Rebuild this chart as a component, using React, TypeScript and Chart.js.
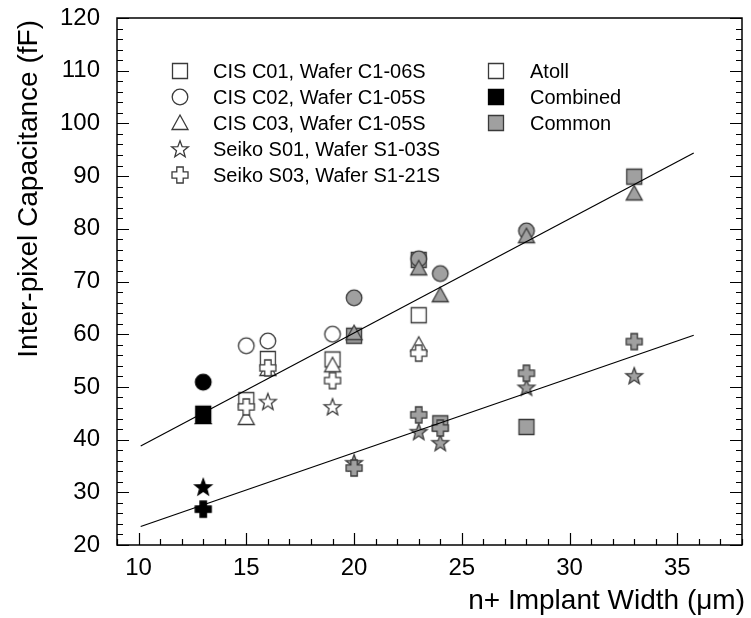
import React, { useEffect, useRef } from "react";
import { Chart, registerables } from "chart.js";

Chart.register(...registerables);

// ---------- Axis ranges / ticks ----------
const xMin = 9;
const xMax = 38;
const yMin = 20;
const yMax = 120;
const xStep = 5;
const yStep = 10;

// ---------- Data: Combined (black) ----------
const combinedX = [13];
const combinedC01 = [44.9];
const combinedC02 = [50.9];
const combinedC03 = [44.3];
const combinedS01 = [31.0];
const combinedS03 = [26.8];

// ---------- Data: Atoll (open) ----------
const atollC01X = [15, 16, 19, 23];
const atollC01Y = [47.5, 55.3, 55.2, 63.6];
const atollC02X = [15, 16, 19];
const atollC02Y = [57.8, 58.7, 60.0];
const atollC03X = [15, 16, 19, 23];
const atollC03Y = [44.1, 53.4, 54.1, 58.0];
const atollS01X = [16, 19];
const atollS01Y = [47.2, 46.2];
const atollS03X = [15, 16, 19, 23];
const atollS03Y = [46.2, 53.6, 51.2, 56.4];

// ---------- Data: Common (gray) ----------
const commonC01X = [20, 23, 24, 28, 33];
const commonC01Y = [59.7, 74.1, 43.1, 42.4, 89.9];
const commonC02X = [20, 23, 24, 28];
const commonC02Y = [66.9, 74.3, 71.5, 79.6];
const commonC03X = [20, 23, 24, 28, 33];
const commonC03Y = [60.2, 72.5, 67.4, 78.6, 86.7];
const commonS01X = [20, 23, 24, 28, 33];
const commonS01Y = [35.6, 41.5, 39.4, 49.9, 52.1];
const commonS03X = [20, 23, 24, 28, 33];
const commonS03Y = [34.6, 44.7, 42.2, 52.6, 58.6];

// ---------- Fit lines ----------
const fitX = [10.1, 35.76];
const fitUpperY = [38.8, 94.4];
const fitLowerY = [23.5, 59.8];

// ---------- Legend text ----------
const sampleLabels = [
  "CIS C01, Wafer C1-06S",
  "CIS C02, Wafer C1-05S",
  "CIS C03, Wafer C1-05S",
  "Seiko S01, Wafer S1-03S",
  "Seiko S03, Wafer S1-21S",
];
const typeLabels = ["Atoll", "Combined", "Common"];

const xTitle = "n+ Implant Width (\u03BCm)";
const yTitle = "Inter-pixel Capacitance (fF)";

const FONT = "'Liberation Sans', Arial, Helvetica, sans-serif";
const NARROW = "'Liberation Sans Narrow', 'Arial Narrow', 'Liberation Sans', sans-serif";

type Shape = "square" | "circle" | "triangle" | "star" | "cross";

function makeMarker(shape: Shape, fill: string, stroke: string): HTMLCanvasElement {
  const S = 24;
  const c = document.createElement("canvas");
  c.width = S;
  c.height = S;
  const ctx = c.getContext("2d")!;
  const m = S / 2;
  ctx.fillStyle = fill;
  ctx.strokeStyle = stroke;
  ctx.lineWidth = 1.3;
  ctx.lineJoin = "miter";
  ctx.beginPath();
  if (shape === "square") {
    ctx.rect(m - 7.5, m - 7.5, 15, 15);
  } else if (shape === "circle") {
    ctx.arc(m, m, 7.8, 0, Math.PI * 2);
  } else if (shape === "triangle") {
    ctx.moveTo(m, m - 8);
    ctx.lineTo(m + 8, m + 6.5);
    ctx.lineTo(m - 8, m + 6.5);
    ctx.closePath();
  } else if (shape === "star") {
    for (let i = 0; i < 10; i++) {
      const r = i % 2 === 0 ? 8.8 : 3.7;
      const a = -Math.PI / 2 + (i * Math.PI) / 5;
      const px = m + r * Math.cos(a);
      const py = m + 0.6 + r * Math.sin(a);
      if (i === 0) ctx.moveTo(px, py);
      else ctx.lineTo(px, py);
    }
    ctx.closePath();
  } else {
    const w = 3.2;
    const l = 8;
    const pts = [
      [-w, -l], [w, -l], [w, -w], [l, -w], [l, w], [w, w],
      [w, l], [-w, l], [-w, w], [-l, w], [-l, -w], [-w, -w],
    ];
    pts.forEach(([dx, dy], i) => {
      if (i === 0) ctx.moveTo(m + dx, m + dy);
      else ctx.lineTo(m + dx, m + dy);
    });
    ctx.closePath();
  }
  ctx.fill();
  ctx.stroke();
  return c;
}

const toPts = (xs: number[], ys: number[]) => xs.map((x, i) => ({ x, y: ys[i] }));

export default function App() {
  const ref = useRef<HTMLCanvasElement | null>(null);

  useEffect(() => {
    if (!ref.current) return;
    const shapes: Shape[] = ["square", "circle", "triangle", "star", "cross"];
    const styles = {
      atoll: { fill: "#ffffff", stroke: "#3a3a3a" },
      combined: { fill: "#000000", stroke: "#000000" },
      common: { fill: "#a0a0a0", stroke: "#3a3a3a" },
    };
    const mk: Record<string, Record<Shape, HTMLCanvasElement>> = {};
    (Object.keys(styles) as (keyof typeof styles)[]).forEach((k) => {
      mk[k] = {} as Record<Shape, HTMLCanvasElement>;
      shapes.forEach((s) => {
        mk[k][s] = makeMarker(s, styles[k].fill, styles[k].stroke);
      });
    });

    const shapeOrder: Record<Shape, number> = { cross: 1, star: 2, triangle: 3, circle: 4, square: 5 };

    const groups: { type: string; shape: Shape; pts: { x: number; y: number }[] }[] = [
      { type: "combined", shape: "square", pts: toPts(combinedX, combinedC01) },
      { type: "combined", shape: "circle", pts: toPts(combinedX, combinedC02) },
      { type: "combined", shape: "triangle", pts: toPts(combinedX, combinedC03) },
      { type: "combined", shape: "star", pts: toPts(combinedX, combinedS01) },
      { type: "combined", shape: "cross", pts: toPts(combinedX, combinedS03) },
      { type: "atoll", shape: "square", pts: toPts(atollC01X, atollC01Y) },
      { type: "atoll", shape: "circle", pts: toPts(atollC02X, atollC02Y) },
      { type: "atoll", shape: "triangle", pts: toPts(atollC03X, atollC03Y) },
      { type: "atoll", shape: "star", pts: toPts(atollS01X, atollS01Y) },
      { type: "atoll", shape: "cross", pts: toPts(atollS03X, atollS03Y) },
      { type: "common", shape: "square", pts: toPts(commonC01X, commonC01Y) },
      { type: "common", shape: "circle", pts: toPts(commonC02X, commonC02Y) },
      { type: "common", shape: "triangle", pts: toPts(commonC03X, commonC03Y) },
      { type: "common", shape: "star", pts: toPts(commonS01X, commonS01Y) },
      { type: "common", shape: "cross", pts: toPts(commonS03X, commonS03Y) },
    ];

    const datasets: any[] = groups.map((g) => ({
      type: "scatter",
      data: g.pts,
      pointStyle: mk[g.type][g.shape],
      pointRadius: 8,
      showLine: false,
      order: shapeOrder[g.shape],
    }));
    datasets.push({
      type: "line",
      data: toPts(fitX, fitUpperY),
      borderColor: "#000",
      borderWidth: 1.2,
      pointRadius: 0,
      fill: false,
      order: 0,
    });
    datasets.push({
      type: "line",
      data: toPts(fitX, fitLowerY),
      borderColor: "#000",
      borderWidth: 1.2,
      pointRadius: 0,
      fill: false,
      order: 0,
    });

    const decor = {
      id: "decor",
      afterDraw(chart: any) {
        const ctx = chart.ctx as CanvasRenderingContext2D;
        const { left, right, top, bottom } = chart.chartArea;
        const xs = chart.scales.x;
        const ys = chart.scales.y;
        ctx.save();
        // frame
        ctx.strokeStyle = "#000";
        ctx.lineWidth = 1.5;
        ctx.strokeRect(left, top, right - left, bottom - top);
        // ticks
        ctx.lineWidth = 1.2;
        ctx.beginPath();
        for (let v = xMin; v <= xMax; v++) {
          const px = Math.round(xs.getPixelForValue(v)) + 0.5;
          const len = v % xStep === 0 ? 12 : 6;
          ctx.moveTo(px, bottom);
          ctx.lineTo(px, bottom - len);
        }
        for (let v = yMin; v <= yMax; v += 2) {
          const py = Math.round(ys.getPixelForValue(v)) + 0.5;
          const len = v % yStep === 0 ? 12 : 6;
          ctx.moveTo(left, py);
          ctx.lineTo(left + len, py);
          ctx.moveTo(right, py);
          ctx.lineTo(right - len, py);
        }
        ctx.stroke();

        // legend 1
        ctx.fillStyle = "#000";
        ctx.font = `20px ${FONT}`;
        ctx.textBaseline = "middle";
        ctx.textAlign = "left";
        const legShapes: Shape[] = ["square", "circle", "triangle", "star", "cross"];
        sampleLabels.forEach((lab, i) => {
          const cy = top + 53 + i * 26;
          const img = mk.atoll[legShapes[i]];
          ctx.drawImage(img, left + 63 - img.width / 2, cy - img.height / 2);
          ctx.fillText(lab, left + 96, cy + 1);
        });
        // legend 2
        const legTypes = ["atoll", "combined", "common"];
        typeLabels.forEach((lab, i) => {
          const cy = top + 53 + i * 26;
          const img = mk[legTypes[i]].square;
          ctx.drawImage(img, left + 379 - img.width / 2, cy - img.height / 2);
          ctx.fillText(lab, left + 413, cy + 1);
        });

        // axis titles
        ctx.font = `28px ${FONT}`;
        ctx.textAlign = "right";
        ctx.textBaseline = "alphabetic";
        ctx.fillText(xTitle, right + 3, 609);
        ctx.save();
        ctx.translate(37, top + 2);
        ctx.rotate(-Math.PI / 2);
        ctx.textAlign = "right";
        ctx.fillText(yTitle, 0, 0);
        ctx.restore();
        ctx.restore();
      },
    };

    const chart = new Chart(ref.current, {
      type: "scatter",
      data: { datasets },
      options: {
        responsive: false,
        animation: false,
        events: [],
        layout: { padding: { top: 18, right: 3, left: 0, bottom: 0 } },
        plugins: { legend: { display: false }, tooltip: { enabled: false } },
        scales: {
          x: {
            type: "linear",
            min: xMin,
            max: xMax,
            afterBuildTicks: (s: any) => {
              s.ticks = s.ticks.filter((t: any) => t.value % xStep === 0);
            },
            afterFit: (s: any) => {
              s.height = 73;
              s.paddingLeft = 0;
              s.paddingRight = 0;
            },
            ticks: {
              stepSize: xStep,
              color: "#000",
              font: { family: NARROW, size: 24 },
              padding: 9,
              maxRotation: 0,
            },
            grid: { display: false, drawTicks: false },
            border: { display: false },
          },
          y: {
            type: "linear",
            min: yMin,
            max: yMax,
            afterBuildTicks: (s: any) => {
              s.ticks = s.ticks.filter((t: any) => t.value % yStep === 0);
            },
            afterFit: (s: any) => {
              s.width = 117;
              s.paddingTop = 0;
              s.paddingBottom = 0;
            },
            ticks: {
              stepSize: yStep,
              color: "#000",
              font: { family: NARROW, size: 24 },
              padding: 17,
            },
            grid: { display: false, drawTicks: false },
            border: { display: false },
          },
        },
      },
      plugins: [decor],
    });
    return () => chart.destroy();
  }, []);

  return (
    <div style={{ position: "absolute", left: 0, top: 0, width: 751, height: 618, background: "#fff" }}>
      <canvas ref={ref} width={751} height={618} style={{ width: 751, height: 618, display: "block" }} />
    </div>
  );
}
